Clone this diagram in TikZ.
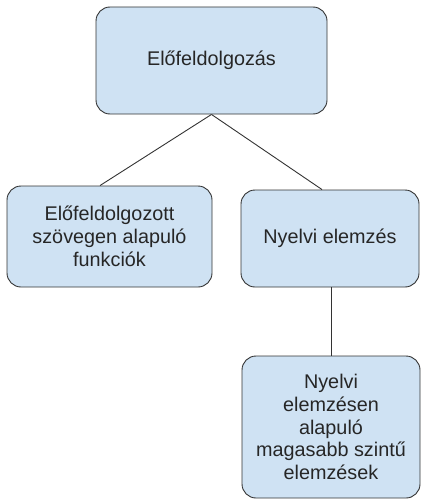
\documentclass[tikz,border=0pt]{standalone}
\usepackage{fontspec}
\setmainfont{Liberation Sans}
\usepackage{tikz}
\usetikzlibrary{positioning}
\definecolor{boxfill}{HTML}{CFE2F3}
\definecolor{boxline}{HTML}{333333}
\tikzset{
  stagebox/.style={draw=boxline, fill=boxfill, line width=0.9pt, rounded corners=14pt,
    align=center, inner sep=0pt, text=black!85,
    font=\fontsize{19.8}{22.8}\selectfont},
  treeline/.style={draw=boxline, line width=0.9pt}
}
\begin{document}
\begin{tikzpicture}[x=1pt, y=-1pt]
    \useasboundingbox (0,0) rectangle (425,503);

    % Top box
    \node[stagebox, minimum width=231pt, minimum height=107pt] (prep) at (211.5, 60.5) {Előfeldolgozás};

    % Second row
    \node[stagebox, minimum width=205pt, minimum height=101pt] (prepfunc) at (109.5, 236.5)
      {Előfeldolgozott\\szövegen alapuló\\funkciók};
    \node[stagebox, minimum width=178pt, minimum height=97pt] (lang) at (330, 238.5) {Nyelvi elemzés};

    % Bottom box
    \node[stagebox, minimum width=178pt, minimum height=142pt] (higher) at (331, 427)
      {Nyelvi\\elemzésen\\alapuló\\magasabb szintű\\elemzések};

    % Connectors
    \draw[treeline] (prep.south) -- ([xshift=-9.5pt]prepfunc.north);
    \draw[treeline] (prep.south) -- ([xshift=-8pt]lang.north);
    \draw[treeline] ([xshift=1.5pt]lang.south) -- ([xshift=0.5pt]higher.north);
\end{tikzpicture}
\end{document}
